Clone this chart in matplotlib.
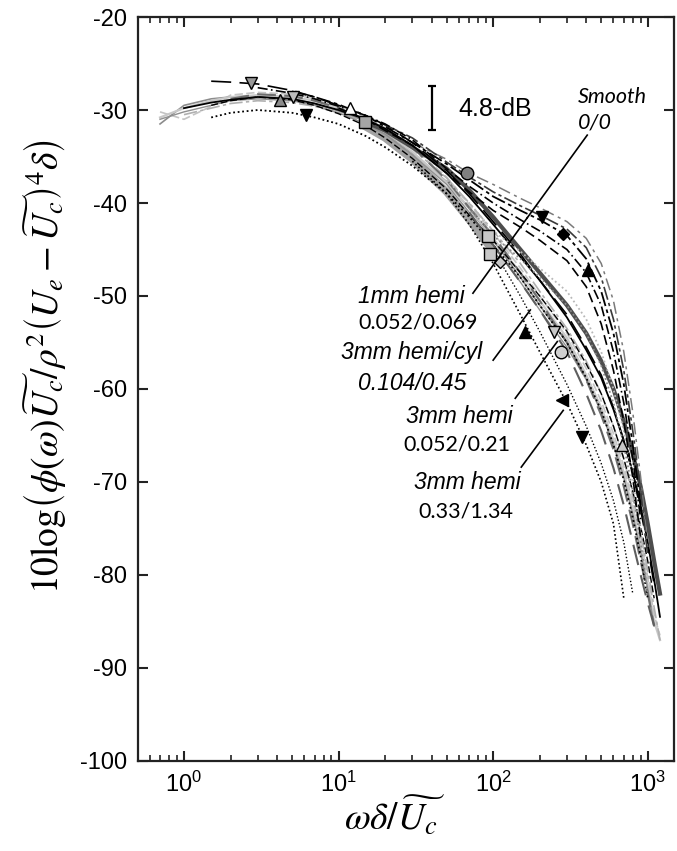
import numpy as np
import matplotlib
matplotlib.use('Agg')
import matplotlib.pyplot as plt
from matplotlib.ticker import LogLocator, FixedLocator, FixedFormatter

plt.rcParams['font.family'] = ['Liberation Sans', 'DejaVu Sans']
plt.rcParams['mathtext.fontset'] = 'custom'
plt.rcParams['mathtext.rm'] = 'Liberation Sans'
plt.rcParams['mathtext.it'] = 'Liberation Sans:italic'
plt.rcParams['axes.unicode_minus'] = False

n = np.nan

# frequency stations the curves were read at (omega*delta/Uc)
omega = [0.7, 1, 1.5, 2, 3, 5, 7, 10, 15, 20, 30, 50, 70, 100, 150, 200,
         300, 400, 500, 600, 700, 800, 900, 1000, 1100, 1200]

# main bundle (smooth wall + small roughness)
main_a = [n, -29.8, -29.2, -28.9, -28.6, -28.8, -29.3, -30.0, -31.0, -32.0, -33.8, -36.8, -39.3,
          -42.3, -45.8, -48.3, -52.3, -55.8, -58.8, -62.2, -65.6, -69.0, -72.5, -76.5, -80.5, -84.5]
main_b = [n]*8 + [-31.3, -32.2, -34.0, -36.3, -38.6, -41.5, -45.0, -47.5, -51.0, -54.0, -57.0,
                  -60.0, -63.5, -67.0, -70.5, -74.5, -78.5, -82.0]
main_c = [n]*8 + [-31.8, -33.0, -35.3, -38.8, -41.8, -45.2] + [n]*12
main_d = [-30.8, -29.8, -29.0, -28.6, -28.4, -28.6, -29.0, -29.8, -31.0, -32.3, -34.5, -37.8, -40.5,
          -43.8, -47.5, -50.5, -54.5, -58.5, -62.0, -65.5, -69.0, -73.0, -77.0, -81.0, -85.0, -87.0]
main_e = [-31.0, -30.2, -29.5, -29.0, -28.8, -29.0, -29.5, -30.3, -31.5, -32.6, -34.8, -38.0, -41.0,
          -44.5, -48.5, -51.5, -55.5, -59.0, -62.5, -66.0, -69.5, -73.5, -77.5, -81.5, -85.5, n]
main_f = [n, n, -29.5, -29.0, -28.6, -28.9, -29.5, -30.4, -31.7, -33.0, -35.2, -38.5, -41.3,
          -44.0, -47.5, -50.0, -53.8, -57.3, -60.5, -64.0, -67.5, -71.0, -74.8, -78.5, -82.5, n]
main_g = [n, n, n, -28.8, -28.3, -28.5, -29.0, -29.8, -31.0, -32.0, -34.0, -37.5, -40.5,
          -43.5, -47.5, -50.5, -55.0, -59.0, -62.8, -66.5, -70.5, -74.5, -78.5, -82.0, -85.5, n]
main_h = [n, -30.5, -29.8, -29.3, -29.0, -29.2, -29.6, -30.3, -31.3, -32.2, -34.2, -37.3, -40.0,
          -43.0, -46.5, -49.5, -53.5, -57.0, -60.5, -64.0, -67.5, -71.5, -75.5, -79.5, -83.5, -87.0]

# upper bundle (hemi/cyl, dash-dot)
upper_a = [n, n, n, n, n, -28.0, -28.6, -29.4, -30.6, -31.8, -33.5, -35.8, -37.5,
           -39.3, -40.8, -41.8, -43.5, -46.0, -49.5, -54.0, -59.5, -66.0, -72.5, n, n, n]
upper_b = [n, n, n, n, -27.6, -28.2, -28.8, -29.6, -30.6, -31.5, -33.2, -36.3, -38.2,
           -40.0, -41.8, -43.0, -45.0, -47.5, -51.0, -56.0, -61.5, -67.5, -74.0, n, n, n]
upper_c = [n]*7 + [-29.8, -31.0, -32.2, -33.8, -36.8, -38.8, -40.8, -42.6, -44.0, -46.2, -49.0,
                  -53.0, -58.0, -63.5, -69.5, -76.0] + [n]*3
upper_d = [n]*9 + [-31.6, -33.0, -35.6, -37.2, -38.8, -40.3, -41.3, -42.8, -44.8, -48.0, -52.5,
                  -58.0, -64.5, -71.0, -78.0] + [n]*2
upper_gray = [n]*10 + [-33.5, -35.3, -36.8, -38.0, -39.5, -40.5, -42.0, -43.8, -46.5, -50.5,
                       -56.0, -62.5, -69.5, -77.0] + [n]*2

# dotted, in between
dot_a = [n]*12 + [-40.5, -43.5, -46.0, -48.0, -51.0, -54.0, -57.5, -61.5, -66.0, -71.0, -76.5, -82.0] + [n]*2
dot_b = [n]*11 + [-37.5, -40.0, -43.0, -45.2, -47.0, -49.5, -52.5, -56.0, -60.0, -64.5, -69.5,
                  -75.0, -80.5] + [n]*2

# lower curves (3mm hemi)
low_dot_a = [n]*10 + [-35.5, -39.0, -42.3, -46.5, -52.0, -56.0, -61.5, -66.0, -70.0, -74.5, -82.5] + [n]*5
low_dot_b = [n]*13 + [-45.0, -50.0, -53.8, -59.5, -64.0, -68.0, -72.0, -76.5, -82.0] + [n]*4
low_dash = [n]*12 + [-41.0, -44.5, -48.5, -51.5, -56.0, -60.5, -64.5, -68.5, -72.5, -76.5, -80.0,
                     -83.0, -85.5] + [n]

# low frequency starts
start_black = [n, n, -26.9, -27.0, -27.2, -27.9, -28.6, -29.5, -30.6, -31.6, -33.5, -36.5, -39.0,
               -42.0, -45.5, -48.3, -52.0, -55.5, -58.5, -62.0, -65.5, -69.0, -73.0, -77.0, -81.0, n]
start_gray_a = [-31.5, -29.5, -28.8, -28.6, -28.5, -28.8, -29.3, -30.1, -31.2, -32.4, -34.6, -37.7, -40.6,
                -44.0, -48.0, -51.0, -55.0, -58.8, -62.3, -65.8, -69.3, -73.3, -77.3, -81.3, -85.3, n]
start_gray_b = [-30.2, -31.0, -29.6, -28.4, -28.1, -28.3, -28.8, -29.6, -30.8, -31.9, -34.0, -37.2, -40.2,
                -43.2, -47.0, -50.0, -54.0, -57.8, -61.3, -64.8, -68.3, -72.3, -76.3, -80.3, -84.3, -86.5]
low_black_dot = [n, n, -30.8, -30.3, -30.0, -30.3, -30.8, -31.5, -32.8, -34.0, -36.0, -39.0, -41.5,
                 -44.5, -48.0, -51.0, -55.0, -58.8, -62.3, -66.0, -69.8, -73.8, -78.0, -82.5, n, n]

# symbols
mk_w = [2.7, 4.2, 5.1, 6.2, 11.9, 14.8, 68, 207, 283, 411, 93, 95, 111, 161, 248, 275, 280, 377, 685]
mk_y = [-27.1, -28.9, -28.6, -30.5, -29.8, -31.3, -36.8, -41.5, -43.3, -47.2, -43.5, -45.5, -46.3,
        -53.9, -53.9, -56.0, -61.2, -65.2, -66.0]

# styles
dd = (0, (8, 2, 2, 2))
ld = (0, (9, 4))
dt = (0, (1, 1.5))
curves = [
    (main_c, '#a3a3a3', '-', 5.5),
    (start_gray_b, '#c4c4c4', (0, (5, 2)), 1.2),
    (start_gray_a, '#8c8c8c', '-', 1.2),
    (main_d, '#c8c8c8', '-', 1.6),
    (main_h, '#b0b0b0', dd, 1.2),
    (main_e, '#8f8f8f', '-', 1.0),
    (main_g, '#6e6e6e', ld, 1.5),
    (main_f, 'black', (0, (5, 2)), 1.0),
    (main_b, '#4d4d4d', '-', 3.0),
    (main_a, 'black', '-', 1.3),
    (start_black, 'black', (0, (12, 5)), 1.2),
    (low_black_dot, 'black', dt, 1.3),
    (dot_a, '#8a8a8a', dt, 1.3),
    (dot_b, '#b8b8b8', dt, 1.3),
    (upper_gray, '#7a7a7a', (0, (8, 3, 2, 3)), 1.1),
    (upper_d, '#3a3a3a', dd, 1.2),
    (upper_a, 'black', dd, 1.3),
    (upper_b, 'black', (0, (6, 2, 1, 2)), 1.2),
    (upper_c, 'black', (0, (6, 3)), 1.2),
    (low_dash, '#5e5e5e', (0, (10, 5)), 1.5),
    (low_dot_a, 'black', dt, 1.2),
    (low_dot_b, 'black', dt, 1.0),
]
mk_shape = ['v', '^', 'v', 'v', '^', 's', 'o', 'v', 'D', '^', 's', 's', 'D', '^', 'v', 'o', '<', 'v', '^']
mk_face = ['#999999', '#8c8c8c', '#bdbdbd', 'black', 'white', '#a6a6a6', '#808080', 'black', 'black',
           'black', '#c8c8c8', '#c8c8c8', '#c8c8c8', 'black', '#c8c8c8', '#d0d0d0', 'black', 'black',
           '#c8c8c8']

fig = plt.figure(figsize=(6.77, 8.51), dpi=100)
ax = fig.add_axes([0.2038, 0.1058, 0.7912, 0.8742])

for ys, c, ls, lw in curves:
    ax.plot(omega, ys, color=c, linestyle=ls, linewidth=lw)

for xm, ym, m, fc in zip(mk_w, mk_y, mk_shape, mk_face):
    ms = 6.5 if m == 'D' else 9
    ax.plot([xm], [ym], marker=m, markersize=ms, markerfacecolor=fc,
            markeredgecolor='black', markeredgewidth=1.0, linestyle='none', zorder=5)

# annotation leader lines
leaders = [((406, -32.7), (166, -41.6)),
           ((74, -49.7), (166, -41.6)),
           ((100, -56.9), (174, -51.5)),
           ((139, -61.0), (260, -54.9)),
           ((152, -68.4), (284, -62.3))]
for (x0, y0), (x1, y1) in leaders:
    ax.plot([x0, x1], [y0, y1], color='black', linewidth=1.2, zorder=6)

# 4.8 dB scale bar
ax.errorbar([40.3], [-29.8], yerr=[[2.4], [2.4]], color='black', capsize=3,
            elinewidth=1.6, capthick=1.6, zorder=6)
ax.text(59.3, -29.9, '4.8-dB', fontsize=18, va='center', ha='left')

ax.text(352, -28.6, 'Smooth', fontsize=15.5, family='Lato', style='italic', va='center', ha='left')
ax.text(352, -31.3, '0/0', fontsize=15.5, family='Lato', style='italic', va='center', ha='left')

ax.text(65.9, -50.1, '1mm hemi', fontsize=16.5, style='italic', va='center', ha='right')
ax.text(32.7, -52.9, '0.052/0.069', fontsize=15.5, family='Lato', va='center', ha='center')
ax.text(29.9, -56.1, '3mm hemi/cyl', fontsize=16.5, style='italic', va='center', ha='center')
ax.text(29.9, -59.4, '0.104/0.45', fontsize=16.5, style='italic', va='center', ha='center')
ax.text(60.3, -63.0, '3mm hemi', fontsize=16.5, style='italic', va='center', ha='center')
ax.text(58.5, -66.0, '0.052/0.21', fontsize=15.5, family='Lato', va='center', ha='center')
ax.text(67.9, -70.1, '3mm hemi', fontsize=16.5, style='italic', va='center', ha='center')
ax.text(67.0, -73.2, '0.33/1.34', fontsize=15.5, family='Lato', va='center', ha='center')

ax.set_xscale('log')
ax.set_xlim(0.504, 1470)
ax.set_ylim(-100, -20)
yt = [-100, -90, -80, -70, -60, -50, -40, -30, -20]
ax.yaxis.set_major_locator(FixedLocator(yt))
ax.yaxis.set_major_formatter(FixedFormatter([str(v) for v in yt]))
ax.xaxis.set_major_locator(LogLocator(base=10))
ax.xaxis.set_minor_locator(LogLocator(base=10, subs=np.arange(2, 10)))

ax.tick_params(which='both', direction='in', top=True, right=True, labelsize=17, colors='#222222')
ax.tick_params(which='major', length=7, width=1.5, pad=8)
ax.tick_params(which='minor', length=4, width=1.2)
ax.tick_params(axis='x', labelcolor='black')
ax.tick_params(axis='y', labelcolor='black')
for sp in ax.spines.values():
    sp.set_linewidth(1.6)
    sp.set_color('#222222')

ax.set_ylabel(r'$10\mathrm{log}\left(\phi(\omega)\widetilde{U_c}/\rho^2\left(U_e-\widetilde{U_c}\right)^4\delta\right)$',
              fontsize=27, math_fontfamily='stix')
ax.yaxis.set_label_coords(-0.13, 0.53)
ax.set_xlabel(r'$\omega\delta/\widetilde{U_c}$', fontsize=27, math_fontfamily='stix')
ax.xaxis.set_label_coords(0.479, -0.045)

fig.savefig('out.png', dpi=100)
